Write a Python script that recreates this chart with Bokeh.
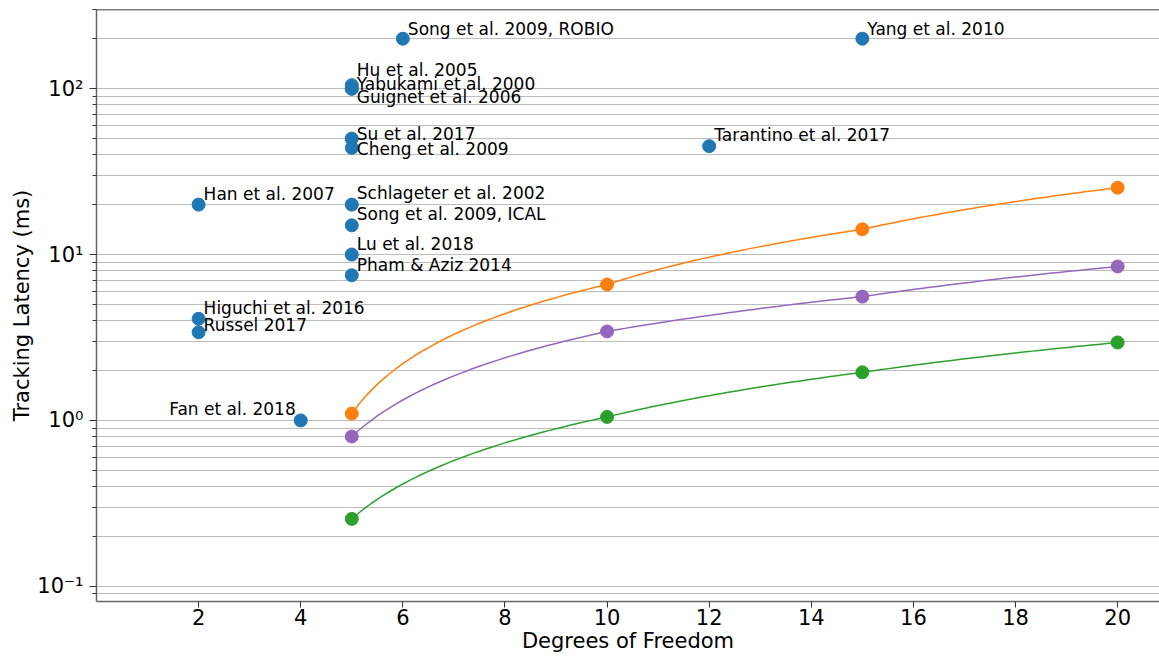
import numpy as np
from bokeh.plotting import figure
from bokeh.models import (Range1d, FixedTicker, CustomJSTickFormatter, Label, Span)
from bokeh.embed import file_html
from bokeh.resources import INLINE

# ---- data ----
study_names = ["Song et al. 2009, ROBIO", "Yang et al. 2010", "Hu et al. 2005",
               "Yabukami et al. 2000", "Guignet et al. 2006", "Su et al. 2017",
               "Cheng et al. 2009", "Tarantino et al. 2017", "Han et al. 2007",
               "Schlageter et al. 2002", "Song et al. 2009, ICAL", "Lu et al. 2018",
               "Pham & Aziz 2014", "Higuchi et al. 2016", "Russel 2017", "Fan et al. 2018"]
study_dof = [6, 15, 5, 5, 5, 5, 5, 12, 2, 5, 5, 5, 5, 2, 2, 4]
study_latency = [200, 200, 105, 100, 100, 50, 44, 45, 20, 20, 15, 10, 7.5, 4.1, 3.4, 1.0]

model_dof = [5, 10, 15, 20]
orange_latency = [1.1, 6.6, 14.2, 25.3]
purple_latency = [0.8, 3.44, 5.58, 8.47]
green_latency = [0.255, 1.05, 1.95, 2.95]

x_ticks = [2, 4, 6, 8, 10, 12, 14, 16, 18, 20]
y_major_ticks = [0.1, 1, 10, 100]

# ---- label placement (style: pixel offsets, alignment) ----
label_style = {
    "Song et al. 2009, ROBIO": (5, 10, "left"),
    "Yang et al. 2010": (5, 10, "left"),
    "Hu et al. 2005": (5, 15, "left"),
    "Yabukami et al. 2000": (5, 5, "left"),
    "Guignet et al. 2006": (5, -8, "left"),
    "Su et al. 2017": (5, 5, "left"),
    "Cheng et al. 2009": (5, -1, "left"),
    "Tarantino et al. 2017": (5, 11, "left"),
    "Han et al. 2007": (5, 11, "left"),
    "Schlageter et al. 2002": (5, 12, "left"),
    "Song et al. 2009, ICAL": (5, 11, "left"),
    "Lu et al. 2018": (5, 11, "left"),
    "Pham & Aziz 2014": (5, 10, "left"),
    "Higuchi et al. 2016": (5, 11, "left"),
    "Russel 2017": (5, 7, "left"),
    "Fan et al. 2018": (-5, 11, "right"),
}

FONT = "DejaVu Sans"
BLUE, ORANGE, GREEN, PURPLE = "#1f77b4", "#ff7f0e", "#2ca02c", "#9467bd"

p = figure(width=1159, height=656, y_axis_type="log",
           x_range=Range1d(0, 20.82), y_range=Range1d(0.081, 300),
           output_backend="svg", toolbar_location=None,
           min_border_left=96, min_border_right=0, min_border_top=9, min_border_bottom=55)
p.outline_line_color = None
p.background_fill_color = "white"
p.border_fill_color = "white"

# axes
p.xaxis.ticker = FixedTicker(ticks=x_ticks)
minor = [m * 10.0 ** e for e in range(-2, 3) for m in range(2, 10)]
p.yaxis.ticker = FixedTicker(ticks=y_major_ticks, minor_ticks=minor)
sup_code = """
const sup = {"-": "\u207b", "0": "\u2070", "1": "\u00b9", "2": "\u00b2", "3": "\u00b3"};
const e = Math.round(Math.log10(tick));
return "10" + String(e).split("").map(c => sup[c]).join("");
"""
p.yaxis.formatter = CustomJSTickFormatter(code=sup_code)

for ax in (p.xaxis[0], p.yaxis[0]):
    ax.axis_line_color = "#666666"
    ax.axis_line_width = 1.5
    ax.major_tick_line_color = "#333333"
    ax.minor_tick_line_color = "#333333"
    ax.major_tick_in = 0
    ax.minor_tick_in = 0
    ax.major_label_text_font = FONT
    ax.major_label_text_font_size = "21px"
    ax.major_label_text_color = "black"
    ax.axis_label_text_font = FONT
    ax.axis_label_text_font_size = "21px"
    ax.axis_label_text_font_style = "normal"
    ax.axis_label_text_color = "black"

p.xaxis.major_tick_out = 6
p.xaxis.minor_tick_line_color = None
p.xaxis.major_label_standoff = 1
p.xaxis.axis_label_standoff = 1
p.xaxis.axis_label = "Degrees of Freedom"

p.yaxis.major_tick_out = 7
p.yaxis.minor_tick_out = 4
p.yaxis.major_label_standoff = 6
p.yaxis.axis_label_standoff = 0
p.yaxis.axis_label = "Tracking Latency (ms)"

# grid
p.xgrid.grid_line_color = None
p.ygrid.grid_line_color = "#bdbdbd"
p.ygrid.grid_line_width = 1
p.ygrid.minor_grid_line_color = "#bdbdbd"
p.ygrid.minor_grid_line_width = 1

# top spine
p.add_layout(Span(location=300, dimension="width", line_color="black", line_width=1.5))


def dense_path(xs, ys, n=40):
    """Straight segments in data space (appear curved on the log axis)."""
    px, py = [], []
    for i in range(len(xs) - 1):
        t = np.linspace(0, 1, n, endpoint=(i == len(xs) - 2))
        px.extend(xs[i] + t * (xs[i + 1] - xs[i]))
        py.extend(ys[i] + t * (ys[i + 1] - ys[i]))
    return px, py


for ys, col in ((orange_latency, ORANGE), (purple_latency, PURPLE), (green_latency, GREEN)):
    lx, ly = dense_path(model_dof, ys)
    p.line(lx, ly, line_color=col, line_width=1.5)
    p.scatter(model_dof, ys, size=13, fill_color=col, line_color=col)

p.scatter(study_dof, study_latency, size=13, fill_color=BLUE, line_color=BLUE)

for name, xv, yv in zip(study_names, study_dof, study_latency):
    dx, dy, align = label_style[name]
    p.add_layout(Label(x=xv, y=yv, text=name, x_offset=dx, y_offset=dy,
                       text_align=align, text_baseline="alphabetic",
                       text_font=FONT, text_font_size="17px", text_color="black"))

open("out.html", "w").write(file_html(p, INLINE))
